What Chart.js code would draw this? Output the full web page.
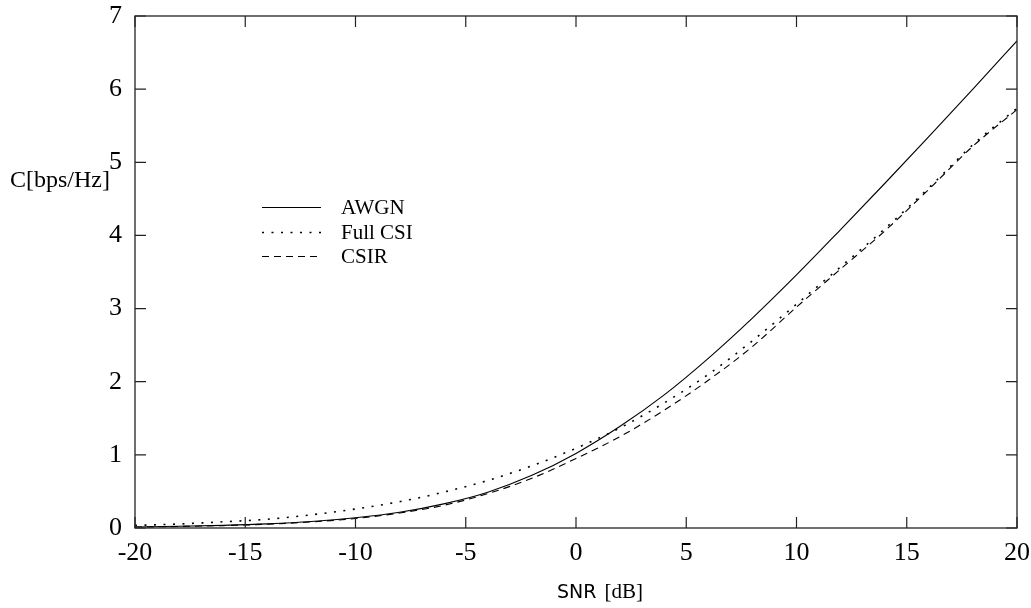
<!DOCTYPE html>
<html>
<head>
<meta charset="utf-8">
<script src="https://cdn.jsdelivr.net/npm/chart.js@4/dist/chart.umd.min.js"></script>
<style>
  html, body { margin: 0; padding: 0; background: #fff; }
  #wrap { width: 1031px; height: 608px; }
</style>
</head>
<body>
<div id="wrap"><canvas id="capChart" width="1031" height="608"></canvas></div>
<script>
// values
const snrDb = [-20, -18, -16, -14, -12, -10, -8, -6, -4, -2, 0, 2, 4, 6, 8, 10, 12, 14, 16, 18, 20];
const awgn = [0.014, 0.023, 0.036, 0.056, 0.088, 0.14, 0.215, 0.33, 0.49, 0.72, 1.02, 1.39, 1.82, 2.32, 2.87, 3.46, 4.08, 4.71, 5.35, 6.00, 6.66];
const fullCsi = [0.035, 0.055, 0.085, 0.12, 0.18, 0.26, 0.36, 0.49, 0.65, 0.85, 1.09, 1.37, 1.71, 2.10, 2.56, 3.06, 3.57, 4.09, 4.65, 5.24, 5.74];
const csir = [0.013, 0.021, 0.033, 0.052, 0.083, 0.13, 0.205, 0.31, 0.47, 0.68, 0.95, 1.25, 1.61, 2.02, 2.48, 3.02, 3.54, 4.06, 4.63, 5.22, 5.72];
const seriesNames = ['AWGN', 'Full CSI', 'CSIR'];
const xTicks = [-20, -15, -10, -5, 0, 5, 10, 15, 20];
const yTicks = [0, 1, 2, 3, 4, 5, 6, 7];

const serif = '"Liberation Serif", "DejaVu Serif", serif';

function toPoints(vals) {
    return snrDb.map((s, i) => ({ x: s, y: vals[i] }));
}

const dashes = [[], [2, 7.5], [7, 5]];

// frame, inward ticks, legend and titles
const framePlugin = {
    id: 'frame',
    afterDatasetsDraw(chart) {
        const { ctx, chartArea: a, scales } = chart;
        const x = scales.x, y = scales.y;
        ctx.save();
        ctx.strokeStyle = '#222';
        ctx.lineWidth = 1.3;
        ctx.strokeRect(a.left, a.top, a.right - a.left, a.bottom - a.top);

        const tl = 11;
        ctx.lineWidth = 1.2;
        ctx.beginPath();
        xTicks.forEach(v => {
            const px = x.getPixelForValue(v);
            ctx.moveTo(px, a.bottom); ctx.lineTo(px, a.bottom - tl);
            ctx.moveTo(px, a.top); ctx.lineTo(px, a.top + tl);
        });
        yTicks.forEach(v => {
            const py = y.getPixelForValue(v);
            ctx.moveTo(a.left, py); ctx.lineTo(a.left + tl, py);
            ctx.moveTo(a.right, py); ctx.lineTo(a.right - tl, py);
        });
        ctx.stroke();

        // legend
        ctx.fillStyle = '#000';
        ctx.font = '21px ' + serif;
        ctx.textBaseline = 'middle';
        ctx.textAlign = 'left';
        const rows = [207.5, 232.5, 256.5];
        seriesNames.forEach((name, i) => {
            ctx.strokeStyle = '#000';
            ctx.lineWidth = i === 1 ? 1.6 : 1.1;
            ctx.setLineDash(dashes[i]);
            ctx.beginPath();
            ctx.moveTo(262, rows[i]); ctx.lineTo(321, rows[i]);
            ctx.stroke();
            ctx.setLineDash([]);
            ctx.fillText(name, 341, rows[i] + 1);
        });

        // y title, horizontal
        ctx.textBaseline = 'alphabetic';
        ctx.font = '24px ' + serif;
        ctx.fillText('C[bps/Hz]', 10, 187);

        // x title
        ctx.font = '19px "DejaVu Sans", sans-serif';
        ctx.fillText('SNR', 557, 598);
        const w = ctx.measureText('SNR ').width;
        ctx.font = '21px ' + serif;
        ctx.fillText('[dB]', 557 + w + 2, 598);
        ctx.restore();
    }
};

const ctx = document.getElementById('capChart').getContext('2d');
new Chart(ctx, {
    type: 'line',
    data: {
        datasets: [
            { label: seriesNames[0], data: toPoints(awgn), borderColor: '#000', borderWidth: 1.1, borderDash: dashes[0] },
            { label: seriesNames[1], data: toPoints(fullCsi), borderColor: '#000', borderWidth: 1.6, borderDash: dashes[1] },
            { label: seriesNames[2], data: toPoints(csir), borderColor: '#000', borderWidth: 1.1, borderDash: dashes[2] }
        ]
    },
    options: {
        responsive: false,
        animation: false,
        events: [],
        elements: {
            point: { radius: 0 },
            line: { cubicInterpolationMode: 'monotone', fill: false }
        },
        layout: { padding: { top: 16, right: 14, left: 0, bottom: 0 } },
        plugins: {
            legend: { display: false },
            tooltip: { enabled: false }
        },
        scales: {
            x: {
                type: 'linear',
                min: -20,
                max: 20,
                afterFit: s => {
                    s.height = 80;
                    s.paddingLeft = 0; s.paddingRight = 0;
                },
                afterBuildTicks: s => { s.ticks = xTicks.map(v => ({ value: v })); },
                grid: { display: false, drawTicks: false },
                border: { display: false },
                ticks: { color: '#000', padding: 10, maxRotation: 0, font: { family: serif, size: 26 } }
            },
            y: {
                min: 0,
                max: 7,
                afterFit: s => {
                    s.width = 135;
                    s.paddingTop = 0; s.paddingBottom = 0;
                },
                afterBuildTicks: s => { s.ticks = yTicks.map(v => ({ value: v })); },
                grid: { display: false, drawTicks: false },
                border: { display: false },
                ticks: { color: '#000', padding: 13, font: { family: serif, size: 26 } }
            }
        }
    },
    plugins: [framePlugin]
});
</script>
</body>
</html>
